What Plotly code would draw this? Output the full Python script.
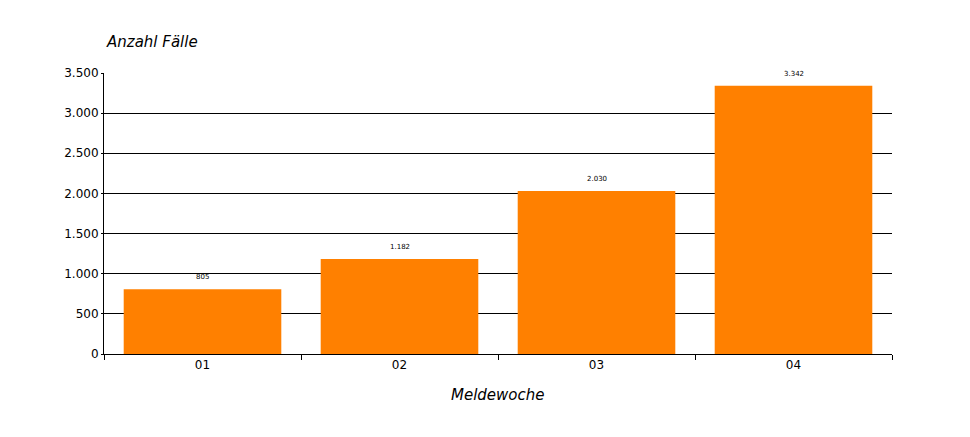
import plotly.graph_objects as go

# Meldewochen and case counts
weeks = ["01", "02", "03", "04"]
cases = [805, 1182, 2030, 3342]

y_ticks = [0, 500, 1000, 1500, 2000, 2500, 3000, 3500]

fig = go.Figure()

fig.add_trace(
    go.Bar(
        x=weeks, y=cases,
        marker=dict(color="#ff8000", line=dict(width=0)),
        width=0.8,
        hoverinfo="x+y",
    )
)

# value labels a bit above each bar (category position = index)
for i, c in enumerate(cases):
    fig.add_annotation(
        x=i, y=c, text=f"{c:,}".replace(",", "."),
        xanchor="center", yanchor="bottom", yshift=6,
        showarrow=False, font=dict(size=7, family="DejaVu Sans", color="black"),
    )

fig.update_layout(
    width=970, height=437,
    margin=dict(l=96, r=86, t=65, b=91),
    paper_bgcolor="white", plot_bgcolor="white",
    separators=",.",
    showlegend=False,
    font=dict(family="DejaVu Sans, Verdana, sans-serif", size=12, color="#000000"),
)

fig.update_xaxes(
    type="category",
    range=[-0.5, len(weeks) - 0.5],
    tickson="boundaries",
    ticks="outside", ticklen=5, tickcolor="black",
    showline=True, linecolor="black", linewidth=1,
    showgrid=False,
    tickfont=dict(size=12, family="DejaVu Sans"),
)

fig.update_yaxes(
    range=[0, 3500],
    tickvals=y_ticks,
    tickformat=",d",
    ticks="outside", ticklen=2, tickcolor="black",
    showline=True, linecolor="black", linewidth=1,
    showgrid=True, gridcolor="black", gridwidth=1,
    zeroline=False,
    tickfont=dict(size=12, family="DejaVu Sans"),
)

# axis titles as in the original (italic, top-left and bottom centre)
fig.add_annotation(
    text="<i>Anzahl Fälle</i>", xref="paper", yref="paper",
    x=0.0, y=1.0, xanchor="left", yanchor="bottom", yshift=20,
    showarrow=False, font=dict(size=15, family="DejaVu Sans"),
)
fig.add_annotation(
    text="<i>Meldewoche</i>", xref="paper", yref="paper",
    x=0.5, y=0.0, xanchor="center", yanchor="top", yshift=-30,
    showarrow=False, font=dict(size=15, family="DejaVu Sans"),
)

fig.write_html("out.html")
